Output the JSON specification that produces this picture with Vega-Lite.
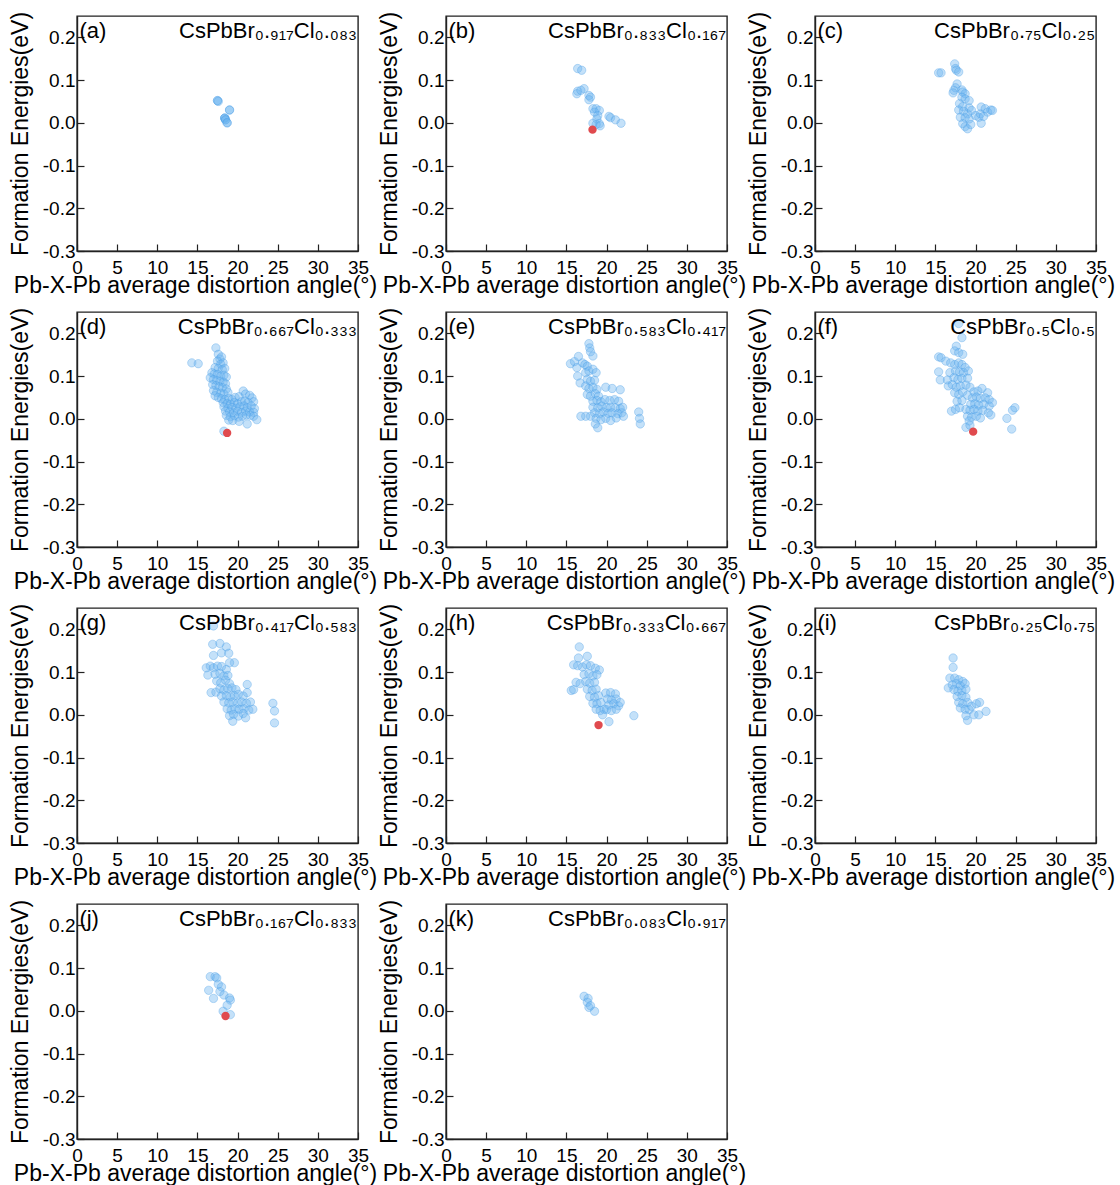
{
  "$schema": "https://vega.github.io/schema/vega-lite/v6.json",
  "background": "white",
  "padding": {"left": 8, "top": 10, "right": 0, "bottom": 0},
  "data": {"values": [
    {"p":"a","k":"l","t":"(a)","f":"CsPbBr₀.₉₁₇Cl₀.₀₈₃"},
    {"p":"b","k":"l","t":"(b)","f":"CsPbBr₀.₈₃₃Cl₀.₁₆₇"},
    {"p":"c","k":"l","t":"(c)","f":"CsPbBr₀.₇₅Cl₀.₂₅"},
    {"p":"d","k":"l","t":"(d)","f":"CsPbBr₀.₆₆₇Cl₀.₃₃₃"},
    {"p":"e","k":"l","t":"(e)","f":"CsPbBr₀.₅₈₃Cl₀.₄₁₇"},
    {"p":"f","k":"l","t":"(f)","f":"CsPbBr₀.₅Cl₀.₅"},
    {"p":"g","k":"l","t":"(g)","f":"CsPbBr₀.₄₁₇Cl₀.₅₈₃"},
    {"p":"h","k":"l","t":"(h)","f":"CsPbBr₀.₃₃₃Cl₀.₆₆₇"},
    {"p":"i","k":"l","t":"(i)","f":"CsPbBr₀.₂₅Cl₀.₇₅"},
    {"p":"j","k":"l","t":"(j)","f":"CsPbBr₀.₁₆₇Cl₀.₈₃₃"},
    {"p":"k","k":"l","t":"(k)","f":"CsPbBr₀.₀₈₃Cl₀.₉₁₇"},

    {"p":"a","k":"m","x":17.5,"y":0.052},{"p":"a","k":"m","x":17.5,"y":0.052},{"p":"a","k":"m","x":17.6,"y":0.050},
    {"p":"a","k":"m","x":19.0,"y":0.030},{"p":"a","k":"m","x":19.0,"y":0.030},
    {"p":"a","k":"m","x":18.4,"y":0.011},{"p":"a","k":"m","x":18.4,"y":0.011},{"p":"a","k":"m","x":18.4,"y":0.011},
    {"p":"a","k":"m","x":18.5,"y":0.007},{"p":"a","k":"m","x":18.5,"y":0.007},
    {"p":"a","k":"m","x":18.7,"y":0.000},{"p":"a","k":"m","x":18.7,"y":0.000},

    {"p":"b","k":"m","x":16.4,"y":0.127},{"p":"b","k":"m","x":16.9,"y":0.123},{"p":"b","k":"m","x":16.4,"y":0.074},
    {"p":"b","k":"m","x":16.3,"y":0.068},{"p":"b","k":"m","x":17.2,"y":0.080},{"p":"b","k":"m","x":16.8,"y":0.076},
    {"p":"b","k":"m","x":17.8,"y":0.064},{"p":"b","k":"m","x":18.0,"y":0.060},{"p":"b","k":"m","x":17.8,"y":0.054},
    {"p":"b","k":"m","x":18.3,"y":0.033},{"p":"b","k":"m","x":18.7,"y":0.033},{"p":"b","k":"m","x":19.1,"y":0.029},
    {"p":"b","k":"m","x":18.5,"y":0.025},{"p":"b","k":"m","x":18.9,"y":0.017},{"p":"b","k":"m","x":18.8,"y":0.009},
    {"p":"b","k":"m","x":19.1,"y":-0.002},{"p":"b","k":"m","x":18.7,"y":-0.004},{"p":"b","k":"m","x":18.3,"y":-0.001},
    {"p":"b","k":"m","x":19.2,"y":-0.007},{"p":"b","k":"m","x":20.3,"y":0.015},{"p":"b","k":"m","x":20.5,"y":0.012},
    {"p":"b","k":"m","x":21.1,"y":0.007},{"p":"b","k":"m","x":21.8,"y":-0.001},
    {"p":"b","k":"r","x":18.25,"y":-0.016},

    {"p":"c","k":"m","x":15.4,"y":0.117},{"p":"c","k":"m","x":15.7,"y":0.117},{"p":"c","k":"m","x":17.4,"y":0.138},
    {"p":"c","k":"m","x":17.5,"y":0.127},{"p":"c","k":"m","x":17.6,"y":0.123},{"p":"c","k":"m","x":17.9,"y":0.119},
    {"p":"c","k":"m","x":17.7,"y":0.091},{"p":"c","k":"m","x":17.5,"y":0.082},{"p":"c","k":"m","x":17.3,"y":0.076},
    {"p":"c","k":"m","x":17.2,"y":0.070},{"p":"c","k":"m","x":18.3,"y":0.077},{"p":"c","k":"m","x":18.4,"y":0.072},
    {"p":"c","k":"m","x":18.7,"y":0.068},{"p":"c","k":"m","x":18.3,"y":0.060},{"p":"c","k":"m","x":18.7,"y":0.056},
    {"p":"c","k":"m","x":19.2,"y":0.052},{"p":"c","k":"m","x":18.0,"y":0.045},{"p":"c","k":"m","x":18.4,"y":0.038},
    {"p":"c","k":"m","x":19.2,"y":0.035},{"p":"c","k":"m","x":17.9,"y":0.030},{"p":"c","k":"m","x":18.5,"y":0.027},
    {"p":"c","k":"m","x":19.0,"y":0.021},{"p":"c","k":"m","x":19.5,"y":0.029},{"p":"c","k":"m","x":18.1,"y":0.013},
    {"p":"c","k":"m","x":18.7,"y":0.012},{"p":"c","k":"m","x":19.2,"y":0.009},{"p":"c","k":"m","x":18.4,"y":-0.002},
    {"p":"c","k":"m","x":18.7,"y":-0.009},{"p":"c","k":"m","x":19.0,"y":-0.014},{"p":"c","k":"m","x":19.4,"y":-0.004},
    {"p":"c","k":"m","x":20.0,"y":0.017},{"p":"c","k":"m","x":20.4,"y":0.013},{"p":"c","k":"m","x":20.6,"y":0.021},
    {"p":"c","k":"m","x":20.7,"y":0.037},{"p":"c","k":"m","x":21.2,"y":0.033},{"p":"c","k":"m","x":21.5,"y":0.025},
    {"p":"c","k":"m","x":21.9,"y":0.030},{"p":"c","k":"m","x":22.1,"y":0.029},{"p":"c","k":"m","x":20.7,"y":-0.001},
    {"p":"c","k":"m","x":21.0,"y":0.015},

    {"p":"d","k":"m","x":14.3,"y":0.131},{"p":"d","k":"m","x":15.1,"y":0.129},{"p":"d","k":"m","x":17.3,"y":0.166},
    {"p":"d","k":"m","x":17.6,"y":0.151},{"p":"d","k":"m","x":17.8,"y":0.140},{"p":"d","k":"m","x":18.0,"y":0.145},
    {"p":"d","k":"m","x":17.5,"y":0.135},{"p":"d","k":"m","x":17.9,"y":0.128},{"p":"d","k":"m","x":18.2,"y":0.131},
    {"p":"d","k":"m","x":17.2,"y":0.120},{"p":"d","k":"m","x":17.6,"y":0.118},{"p":"d","k":"m","x":18.1,"y":0.115},
    {"p":"d","k":"m","x":18.4,"y":0.118},{"p":"d","k":"m","x":16.8,"y":0.108},{"p":"d","k":"m","x":17.1,"y":0.105},
    {"p":"d","k":"m","x":17.5,"y":0.104},{"p":"d","k":"m","x":17.9,"y":0.100},{"p":"d","k":"m","x":18.3,"y":0.102},
    {"p":"d","k":"m","x":18.6,"y":0.098},{"p":"d","k":"m","x":16.6,"y":0.096},{"p":"d","k":"m","x":17.0,"y":0.092},
    {"p":"d","k":"m","x":17.4,"y":0.090},{"p":"d","k":"m","x":17.8,"y":0.088},{"p":"d","k":"m","x":18.2,"y":0.086},
    {"p":"d","k":"m","x":18.5,"y":0.082},{"p":"d","k":"m","x":16.9,"y":0.080},{"p":"d","k":"m","x":17.3,"y":0.078},
    {"p":"d","k":"m","x":17.7,"y":0.075},{"p":"d","k":"m","x":18.1,"y":0.073},{"p":"d","k":"m","x":18.6,"y":0.070},
    {"p":"d","k":"m","x":17.0,"y":0.066},{"p":"d","k":"m","x":17.4,"y":0.062},{"p":"d","k":"m","x":17.9,"y":0.060},
    {"p":"d","k":"m","x":18.3,"y":0.058},{"p":"d","k":"m","x":18.8,"y":0.062},{"p":"d","k":"m","x":17.2,"y":0.054},
    {"p":"d","k":"m","x":17.6,"y":0.050},{"p":"d","k":"m","x":18.0,"y":0.047},{"p":"d","k":"m","x":18.4,"y":0.045},
    {"p":"d","k":"m","x":18.9,"y":0.048},{"p":"d","k":"m","x":19.3,"y":0.045},{"p":"d","k":"m","x":19.7,"y":0.050},
    {"p":"d","k":"m","x":20.2,"y":0.052},{"p":"d","k":"m","x":20.7,"y":0.065},{"p":"d","k":"m","x":21.0,"y":0.058},
    {"p":"d","k":"m","x":21.5,"y":0.055},{"p":"d","k":"m","x":21.8,"y":0.049},{"p":"d","k":"m","x":18.2,"y":0.038},
    {"p":"d","k":"m","x":18.7,"y":0.036},{"p":"d","k":"m","x":19.1,"y":0.034},{"p":"d","k":"m","x":19.6,"y":0.038},
    {"p":"d","k":"m","x":20.0,"y":0.035},{"p":"d","k":"m","x":20.5,"y":0.040},{"p":"d","k":"m","x":20.9,"y":0.042},
    {"p":"d","k":"m","x":21.3,"y":0.038},{"p":"d","k":"m","x":22.0,"y":0.040},{"p":"d","k":"m","x":18.3,"y":0.028},
    {"p":"d","k":"m","x":18.8,"y":0.025},{"p":"d","k":"m","x":19.3,"y":0.027},{"p":"d","k":"m","x":19.8,"y":0.025},
    {"p":"d","k":"m","x":20.3,"y":0.028},{"p":"d","k":"m","x":20.8,"y":0.030},{"p":"d","k":"m","x":21.2,"y":0.026},
    {"p":"d","k":"m","x":21.7,"y":0.030},{"p":"d","k":"m","x":22.1,"y":0.024},{"p":"d","k":"m","x":18.5,"y":0.018},
    {"p":"d","k":"m","x":19.0,"y":0.016},{"p":"d","k":"m","x":19.5,"y":0.014},{"p":"d","k":"m","x":20.0,"y":0.018},
    {"p":"d","k":"m","x":20.5,"y":0.015},{"p":"d","k":"m","x":21.0,"y":0.018},{"p":"d","k":"m","x":21.5,"y":0.016},
    {"p":"d","k":"m","x":22.0,"y":0.015},{"p":"d","k":"m","x":18.6,"y":0.008},{"p":"d","k":"m","x":19.1,"y":0.005},
    {"p":"d","k":"m","x":19.6,"y":0.007},{"p":"d","k":"m","x":20.1,"y":0.004},{"p":"d","k":"m","x":20.6,"y":0.006},
    {"p":"d","k":"m","x":21.1,"y":0.009},{"p":"d","k":"m","x":21.6,"y":0.008},{"p":"d","k":"m","x":22.0,"y":0.006},
    {"p":"d","k":"m","x":22.4,"y":-0.002},{"p":"d","k":"m","x":18.9,"y":-0.003},{"p":"d","k":"m","x":19.4,"y":-0.004},
    {"p":"d","k":"m","x":20.2,"y":-0.006},{"p":"d","k":"m","x":21.2,"y":-0.012},{"p":"d","k":"m","x":18.3,"y":-0.029},
    {"p":"d","k":"r","x":18.7,"y":-0.033},

    {"p":"e","k":"m","x":17.8,"y":0.176},{"p":"e","k":"m","x":17.9,"y":0.166},{"p":"e","k":"m","x":18.0,"y":0.157},
    {"p":"e","k":"m","x":18.3,"y":0.147},{"p":"e","k":"m","x":15.5,"y":0.129},{"p":"e","k":"m","x":16.0,"y":0.134},
    {"p":"e","k":"m","x":16.5,"y":0.146},{"p":"e","k":"m","x":16.3,"y":0.120},{"p":"e","k":"m","x":16.4,"y":0.100},
    {"p":"e","k":"m","x":16.7,"y":0.084},{"p":"e","k":"m","x":17.0,"y":0.131},{"p":"e","k":"m","x":17.3,"y":0.127},
    {"p":"e","k":"m","x":17.6,"y":0.123},{"p":"e","k":"m","x":17.4,"y":0.108},{"p":"e","k":"m","x":17.8,"y":0.112},
    {"p":"e","k":"m","x":18.3,"y":0.116},{"p":"e","k":"m","x":18.7,"y":0.108},{"p":"e","k":"m","x":17.6,"y":0.092},
    {"p":"e","k":"m","x":18.0,"y":0.088},{"p":"e","k":"m","x":18.5,"y":0.090},{"p":"e","k":"m","x":17.4,"y":0.077},
    {"p":"e","k":"m","x":17.8,"y":0.071},{"p":"e","k":"m","x":18.3,"y":0.074},{"p":"e","k":"m","x":18.8,"y":0.069},
    {"p":"e","k":"m","x":17.6,"y":0.057},{"p":"e","k":"m","x":18.0,"y":0.053},{"p":"e","k":"m","x":18.6,"y":0.059},
    {"p":"e","k":"m","x":19.0,"y":0.053},{"p":"e","k":"m","x":19.9,"y":0.074},{"p":"e","k":"m","x":20.7,"y":0.071},
    {"p":"e","k":"m","x":21.7,"y":0.068},{"p":"e","k":"m","x":18.3,"y":0.041},{"p":"e","k":"m","x":18.8,"y":0.043},
    {"p":"e","k":"m","x":19.3,"y":0.040},{"p":"e","k":"m","x":19.8,"y":0.045},{"p":"e","k":"m","x":20.4,"y":0.043},
    {"p":"e","k":"m","x":21.0,"y":0.045},{"p":"e","k":"m","x":21.5,"y":0.041},{"p":"e","k":"m","x":18.3,"y":0.027},
    {"p":"e","k":"m","x":18.9,"y":0.026},{"p":"e","k":"m","x":19.4,"y":0.030},{"p":"e","k":"m","x":20.0,"y":0.026},
    {"p":"e","k":"m","x":20.5,"y":0.027},{"p":"e","k":"m","x":21.1,"y":0.026},{"p":"e","k":"m","x":21.7,"y":0.024},
    {"p":"e","k":"m","x":22.0,"y":0.027},{"p":"e","k":"m","x":18.5,"y":0.014},{"p":"e","k":"m","x":19.1,"y":0.012},
    {"p":"e","k":"m","x":19.6,"y":0.016},{"p":"e","k":"m","x":20.2,"y":0.013},{"p":"e","k":"m","x":20.7,"y":0.014},
    {"p":"e","k":"m","x":21.4,"y":0.012},{"p":"e","k":"m","x":21.9,"y":0.014},{"p":"e","k":"m","x":18.0,"y":0.006},
    {"p":"e","k":"m","x":17.4,"y":0.006},{"p":"e","k":"m","x":16.8,"y":0.006},{"p":"e","k":"m","x":18.7,"y":0.001},
    {"p":"e","k":"m","x":19.3,"y":-0.002},{"p":"e","k":"m","x":19.9,"y":0.001},{"p":"e","k":"m","x":20.5,"y":-0.004},
    {"p":"e","k":"m","x":21.2,"y":0.002},{"p":"e","k":"m","x":22.1,"y":0.006},{"p":"e","k":"m","x":18.6,"y":-0.012},
    {"p":"e","k":"m","x":18.9,"y":-0.021},{"p":"e","k":"m","x":24.0,"y":0.016},{"p":"e","k":"m","x":24.1,"y":0.001},
    {"p":"e","k":"m","x":24.2,"y":-0.012},

    {"p":"f","k":"m","x":17.9,"y":0.223},{"p":"f","k":"m","x":18.3,"y":0.190},{"p":"f","k":"m","x":17.6,"y":0.170},
    {"p":"f","k":"m","x":17.4,"y":0.159},{"p":"f","k":"m","x":17.9,"y":0.155},{"p":"f","k":"m","x":18.4,"y":0.151},
    {"p":"f","k":"m","x":15.4,"y":0.145},{"p":"f","k":"m","x":15.7,"y":0.143},{"p":"f","k":"m","x":16.3,"y":0.135},
    {"p":"f","k":"m","x":16.9,"y":0.131},{"p":"f","k":"m","x":15.4,"y":0.110},{"p":"f","k":"m","x":15.6,"y":0.091},
    {"p":"f","k":"m","x":16.8,"y":0.108},{"p":"f","k":"m","x":16.6,"y":0.077},{"p":"f","k":"m","x":16.5,"y":0.091},
    {"p":"f","k":"m","x":17.4,"y":0.127},{"p":"f","k":"m","x":17.9,"y":0.131},{"p":"f","k":"m","x":18.3,"y":0.127},
    {"p":"f","k":"m","x":18.7,"y":0.120},{"p":"f","k":"m","x":17.5,"y":0.112},{"p":"f","k":"m","x":18.0,"y":0.110},
    {"p":"f","k":"m","x":18.5,"y":0.108},{"p":"f","k":"m","x":19.1,"y":0.112},{"p":"f","k":"m","x":17.3,"y":0.096},
    {"p":"f","k":"m","x":17.8,"y":0.092},{"p":"f","k":"m","x":18.3,"y":0.095},{"p":"f","k":"m","x":19.0,"y":0.095},
    {"p":"f","k":"m","x":17.1,"y":0.080},{"p":"f","k":"m","x":17.6,"y":0.074},{"p":"f","k":"m","x":18.1,"y":0.077},
    {"p":"f","k":"m","x":18.8,"y":0.079},{"p":"f","k":"m","x":19.3,"y":0.074},{"p":"f","k":"m","x":17.4,"y":0.061},
    {"p":"f","k":"m","x":17.9,"y":0.057},{"p":"f","k":"m","x":18.4,"y":0.063},{"p":"f","k":"m","x":19.0,"y":0.055},
    {"p":"f","k":"m","x":17.7,"y":0.041},{"p":"f","k":"m","x":18.3,"y":0.043},{"p":"f","k":"m","x":17.0,"y":0.018},
    {"p":"f","k":"m","x":17.5,"y":0.022},{"p":"f","k":"m","x":18.0,"y":0.026},{"p":"f","k":"m","x":19.8,"y":0.063},
    {"p":"f","k":"m","x":20.3,"y":0.065},{"p":"f","k":"m","x":20.8,"y":0.071},{"p":"f","k":"m","x":21.5,"y":0.061},
    {"p":"f","k":"m","x":19.6,"y":0.049},{"p":"f","k":"m","x":20.1,"y":0.051},{"p":"f","k":"m","x":20.6,"y":0.048},
    {"p":"f","k":"m","x":21.2,"y":0.049},{"p":"f","k":"m","x":21.7,"y":0.045},{"p":"f","k":"m","x":19.4,"y":0.034},
    {"p":"f","k":"m","x":19.9,"y":0.035},{"p":"f","k":"m","x":20.4,"y":0.032},{"p":"f","k":"m","x":21.0,"y":0.034},
    {"p":"f","k":"m","x":21.7,"y":0.030},{"p":"f","k":"m","x":22.1,"y":0.038},{"p":"f","k":"m","x":18.8,"y":0.022},
    {"p":"f","k":"m","x":19.3,"y":0.020},{"p":"f","k":"m","x":19.8,"y":0.022},{"p":"f","k":"m","x":20.3,"y":0.018},
    {"p":"f","k":"m","x":20.9,"y":0.020},{"p":"f","k":"m","x":21.6,"y":0.014},{"p":"f","k":"m","x":21.9,"y":0.009},
    {"p":"f","k":"m","x":19.0,"y":0.006},{"p":"f","k":"m","x":19.5,"y":0.004},{"p":"f","k":"m","x":20.1,"y":0.006},
    {"p":"f","k":"m","x":20.6,"y":0.002},{"p":"f","k":"m","x":19.2,"y":-0.005},{"p":"f","k":"m","x":18.8,"y":-0.020},
    {"p":"f","k":"m","x":19.3,"y":-0.015},{"p":"f","k":"m","x":23.9,"y":0.001},{"p":"f","k":"m","x":24.6,"y":0.020},
    {"p":"f","k":"m","x":24.9,"y":0.026},{"p":"f","k":"m","x":24.5,"y":-0.024},
    {"p":"f","k":"r","x":19.7,"y":-0.030},

    {"p":"g","k":"m","x":17.0,"y":0.208},{"p":"g","k":"m","x":16.9,"y":0.165},{"p":"g","k":"m","x":17.8,"y":0.167},
    {"p":"g","k":"m","x":18.6,"y":0.159},{"p":"g","k":"m","x":18.0,"y":0.145},{"p":"g","k":"m","x":18.9,"y":0.144},
    {"p":"g","k":"m","x":17.0,"y":0.139},{"p":"g","k":"m","x":19.6,"y":0.122},{"p":"g","k":"m","x":19.0,"y":0.122},
    {"p":"g","k":"m","x":16.1,"y":0.110},{"p":"g","k":"m","x":16.3,"y":0.093},{"p":"g","k":"m","x":16.7,"y":0.052},
    {"p":"g","k":"m","x":17.3,"y":0.053},{"p":"g","k":"m","x":16.6,"y":0.114},{"p":"g","k":"m","x":17.0,"y":0.110},
    {"p":"g","k":"m","x":17.5,"y":0.114},{"p":"g","k":"m","x":18.0,"y":0.113},{"p":"g","k":"m","x":18.6,"y":0.106},
    {"p":"g","k":"m","x":17.2,"y":0.095},{"p":"g","k":"m","x":17.8,"y":0.097},{"p":"g","k":"m","x":18.3,"y":0.091},
    {"p":"g","k":"m","x":18.8,"y":0.092},{"p":"g","k":"m","x":17.4,"y":0.079},{"p":"g","k":"m","x":17.9,"y":0.075},
    {"p":"g","k":"m","x":18.5,"y":0.081},{"p":"g","k":"m","x":19.0,"y":0.073},{"p":"g","k":"m","x":17.8,"y":0.061},
    {"p":"g","k":"m","x":18.3,"y":0.058},{"p":"g","k":"m","x":18.8,"y":0.061},{"p":"g","k":"m","x":19.3,"y":0.063},
    {"p":"g","k":"m","x":19.8,"y":0.059},{"p":"g","k":"m","x":18.0,"y":0.044},{"p":"g","k":"m","x":18.6,"y":0.045},
    {"p":"g","k":"m","x":19.1,"y":0.042},{"p":"g","k":"m","x":19.6,"y":0.045},{"p":"g","k":"m","x":20.1,"y":0.048},
    {"p":"g","k":"m","x":20.7,"y":0.044},{"p":"g","k":"m","x":21.2,"y":0.052},{"p":"g","k":"m","x":18.3,"y":0.030},
    {"p":"g","k":"m","x":18.9,"y":0.028},{"p":"g","k":"m","x":19.4,"y":0.030},{"p":"g","k":"m","x":20.0,"y":0.027},
    {"p":"g","k":"m","x":20.5,"y":0.030},{"p":"g","k":"m","x":21.1,"y":0.027},{"p":"g","k":"m","x":21.6,"y":0.030},
    {"p":"g","k":"m","x":18.7,"y":0.014},{"p":"g","k":"m","x":19.2,"y":0.011},{"p":"g","k":"m","x":19.7,"y":0.014},
    {"p":"g","k":"m","x":20.2,"y":0.013},{"p":"g","k":"m","x":20.8,"y":0.014},{"p":"g","k":"m","x":21.4,"y":0.011},
    {"p":"g","k":"m","x":21.9,"y":0.013},{"p":"g","k":"m","x":19.0,"y":-0.002},{"p":"g","k":"m","x":19.5,"y":0.001},
    {"p":"g","k":"m","x":20.1,"y":-0.003},{"p":"g","k":"m","x":20.7,"y":0.003},{"p":"g","k":"m","x":19.4,"y":-0.015},
    {"p":"g","k":"m","x":21.0,"y":-0.007},{"p":"g","k":"m","x":21.2,"y":0.071},{"p":"g","k":"m","x":24.4,"y":0.027},
    {"p":"g","k":"m","x":24.6,"y":0.009},{"p":"g","k":"m","x":24.6,"y":-0.019},

    {"p":"h","k":"m","x":16.6,"y":0.159},{"p":"h","k":"m","x":16.5,"y":0.133},{"p":"h","k":"m","x":17.6,"y":0.137},
    {"p":"h","k":"m","x":15.9,"y":0.117},{"p":"h","k":"m","x":16.4,"y":0.115},{"p":"h","k":"m","x":17.0,"y":0.112},
    {"p":"h","k":"m","x":17.5,"y":0.117},{"p":"h","k":"m","x":18.0,"y":0.115},{"p":"h","k":"m","x":18.6,"y":0.109},
    {"p":"h","k":"m","x":19.1,"y":0.105},{"p":"h","k":"m","x":15.6,"y":0.057},{"p":"h","k":"m","x":15.9,"y":0.059},
    {"p":"h","k":"m","x":16.2,"y":0.076},{"p":"h","k":"m","x":16.7,"y":0.073},{"p":"h","k":"m","x":17.2,"y":0.094},
    {"p":"h","k":"m","x":17.8,"y":0.096},{"p":"h","k":"m","x":18.3,"y":0.091},{"p":"h","k":"m","x":18.8,"y":0.094},
    {"p":"h","k":"m","x":17.4,"y":0.078},{"p":"h","k":"m","x":17.9,"y":0.074},{"p":"h","k":"m","x":18.5,"y":0.076},
    {"p":"h","k":"m","x":17.6,"y":0.060},{"p":"h","k":"m","x":18.2,"y":0.057},{"p":"h","k":"m","x":18.7,"y":0.060},
    {"p":"h","k":"m","x":17.9,"y":0.043},{"p":"h","k":"m","x":18.5,"y":0.041},{"p":"h","k":"m","x":19.0,"y":0.045},
    {"p":"h","k":"m","x":18.3,"y":0.027},{"p":"h","k":"m","x":18.8,"y":0.026},{"p":"h","k":"m","x":19.3,"y":0.029},
    {"p":"h","k":"m","x":18.7,"y":0.013},{"p":"h","k":"m","x":19.2,"y":0.010},{"p":"h","k":"m","x":19.7,"y":0.013},
    {"p":"h","k":"m","x":19.9,"y":0.051},{"p":"h","k":"m","x":20.5,"y":0.052},{"p":"h","k":"m","x":21.1,"y":0.049},
    {"p":"h","k":"m","x":20.1,"y":0.037},{"p":"h","k":"m","x":20.6,"y":0.035},{"p":"h","k":"m","x":21.2,"y":0.037},
    {"p":"h","k":"m","x":20.3,"y":0.023},{"p":"h","k":"m","x":20.9,"y":0.026},{"p":"h","k":"m","x":21.5,"y":0.021},
    {"p":"h","k":"m","x":21.7,"y":0.029},{"p":"h","k":"m","x":20.0,"y":0.012},{"p":"h","k":"m","x":20.6,"y":0.010},
    {"p":"h","k":"m","x":21.2,"y":0.013},{"p":"h","k":"m","x":19.5,"y":0.000},{"p":"h","k":"m","x":20.3,"y":-0.016},
    {"p":"h","k":"m","x":23.4,"y":-0.002},
    {"p":"h","k":"r","x":19.0,"y":-0.024},

    {"p":"i","k":"m","x":17.2,"y":0.133},{"p":"i","k":"m","x":17.2,"y":0.111},{"p":"i","k":"m","x":16.8,"y":0.086},
    {"p":"i","k":"m","x":16.6,"y":0.063},{"p":"i","k":"m","x":17.4,"y":0.086},{"p":"i","k":"m","x":17.9,"y":0.082},
    {"p":"i","k":"m","x":18.4,"y":0.078},{"p":"i","k":"m","x":17.1,"y":0.070},{"p":"i","k":"m","x":17.6,"y":0.073},
    {"p":"i","k":"m","x":18.1,"y":0.068},{"p":"i","k":"m","x":18.7,"y":0.073},{"p":"i","k":"m","x":17.3,"y":0.059},
    {"p":"i","k":"m","x":17.8,"y":0.055},{"p":"i","k":"m","x":18.3,"y":0.057},{"p":"i","k":"m","x":18.8,"y":0.060},
    {"p":"i","k":"m","x":17.7,"y":0.043},{"p":"i","k":"m","x":18.3,"y":0.045},{"p":"i","k":"m","x":18.8,"y":0.041},
    {"p":"i","k":"m","x":17.9,"y":0.029},{"p":"i","k":"m","x":18.4,"y":0.026},{"p":"i","k":"m","x":19.0,"y":0.029},
    {"p":"i","k":"m","x":18.1,"y":0.016},{"p":"i","k":"m","x":18.7,"y":0.013},{"p":"i","k":"m","x":19.2,"y":0.012},
    {"p":"i","k":"m","x":19.5,"y":0.020},{"p":"i","k":"m","x":20.1,"y":0.026},{"p":"i","k":"m","x":20.5,"y":0.029},
    {"p":"i","k":"m","x":21.3,"y":0.008},{"p":"i","k":"m","x":19.8,"y":0.000},{"p":"i","k":"m","x":20.4,"y":0.000},
    {"p":"i","k":"m","x":19.0,"y":-0.013},{"p":"i","k":"m","x":18.8,"y":-0.002},

    {"p":"j","k":"m","x":16.6,"y":0.080},{"p":"j","k":"m","x":17.2,"y":0.080},{"p":"j","k":"m","x":17.4,"y":0.077},
    {"p":"j","k":"m","x":17.6,"y":0.062},{"p":"j","k":"m","x":16.4,"y":0.048},{"p":"j","k":"m","x":17.0,"y":0.029},
    {"p":"j","k":"m","x":18.0,"y":0.056},{"p":"j","k":"m","x":17.8,"y":0.045},{"p":"j","k":"m","x":18.3,"y":0.037},
    {"p":"j","k":"m","x":19.0,"y":0.030},{"p":"j","k":"m","x":19.1,"y":0.025},{"p":"j","k":"m","x":18.7,"y":0.013},
    {"p":"j","k":"m","x":18.2,"y":-0.001},{"p":"j","k":"m","x":19.1,"y":-0.009},
    {"p":"j","k":"r","x":18.5,"y":-0.012},

    {"p":"k","k":"m","x":17.2,"y":0.034},{"p":"k","k":"m","x":17.7,"y":0.029},{"p":"k","k":"m","x":17.6,"y":0.020},
    {"p":"k","k":"m","x":17.8,"y":0.008},{"p":"k","k":"m","x":18.0,"y":0.012},{"p":"k","k":"m","x":18.5,"y":-0.001}
  ]},
  "facet": {"field": "p", "type": "nominal",
    "header": {"title": null, "labels": false, "labelExpr": "''", "labelFontSize": 0, "labelPadding": 0}},
  "columns": 3,
  "spacing": {"row": 61, "column": 88},
  "bounds": "flush",
  "resolve": {"axis": {"x": "independent", "y": "independent"}},
  "spec": {
    "width": 281,
    "height": 235,
    "layer": [
      {
        "transform": [{"filter": "datum.k === 'm'"}],
        "mark": {"type": "circle", "size": 70, "fill": "#6cb4f0", "fillOpacity": 0.4, "stroke": "#4a9fe6", "strokeOpacity": 0.35, "strokeWidth": 1},
        "encoding": {
          "x": {"field": "x", "type": "quantitative",
            "scale": {"domain": [0, 35], "nice": false, "zero": false},
            "axis": {
              "title": "Pb-X-Pb average distortion angle(°)",
              "values": [0, 2.5, 5, 7.5, 10, 12.5, 15, 17.5, 20, 22.5, 25, 27.5, 30, 32.5, 35],
              "labelExpr": "datum.value % 5 === 0 ? format(datum.value, 'd') : ''",
              "tickSize": {"condition": {"test": "datum.value % 5 !== 0", "value": -4}, "value": -7},
              "labelFlush": false, "labelOverlap": false, "labelPadding": 14, "titlePadding": -3,
              "titleX": 118
            }},
          "y": {"field": "y", "type": "quantitative",
            "scale": {"domain": [-0.3, 0.25], "nice": false, "zero": false},
            "axis": {
              "title": "Formation Energies(eV)",
              "values": [-0.3, -0.25, -0.2, -0.15, -0.1, -0.05, 0, 0.05, 0.1, 0.15, 0.2, 0.25],
              "labelExpr": "round(datum.value * 20) % 2 === 0 ? replace(format(datum.value, '.1f'), '−', '-') : ''",
              "tickSize": {"condition": {"test": "round(datum.value * 20) % 2 !== 0", "value": -4}, "value": -7},
              "labelFlush": false, "labelOverlap": false, "labelPadding": 9, "titlePadding": 10
            }}
        }
      },
      {
        "transform": [{"filter": "datum.k === 'r'"}],
        "mark": {"type": "circle", "size": 70, "fill": "#e04a4e", "opacity": 1},
        "encoding": {
          "x": {"field": "x", "type": "quantitative"},
          "y": {"field": "y", "type": "quantitative"}
        }
      },
      {
        "transform": [{"filter": "datum.k === 'l'"}],
        "mark": {"type": "text", "align": "left", "baseline": "alphabetic", "fontSize": 22, "color": "black"},
        "encoding": {
          "x": {"datum": 0.3, "type": "quantitative"},
          "y": {"datum": 0.198, "type": "quantitative"},
          "text": {"field": "t"}
        }
      },
      {
        "transform": [{"filter": "datum.k === 'l'"}],
        "mark": {"type": "text", "align": "right", "baseline": "alphabetic", "fontSize": 22, "dx": -1, "color": "black"},
        "encoding": {
          "x": {"datum": 35, "type": "quantitative"},
          "y": {"datum": 0.198, "type": "quantitative"},
          "text": {"field": "f"}
        }
      }
    ]
  },
  "config": {
    "font": "Liberation Sans",
    "view": {"stroke": "#222", "strokeWidth": 1.4},
    "headerFacet": {"labels": false, "title": null},
    "axis": {
      "grid": false,
      "domainColor": "#222", "domainWidth": 1.4,
      "tickColor": "#222", "tickWidth": 1.2,
      "labelColor": "black", "titleColor": "black",
      "labelFont": "Liberation Sans", "titleFont": "Liberation Sans",
      "labelFontSize": 19, "titleFontSize": 23, "titleFontWeight": "normal"
    }
  }
}
